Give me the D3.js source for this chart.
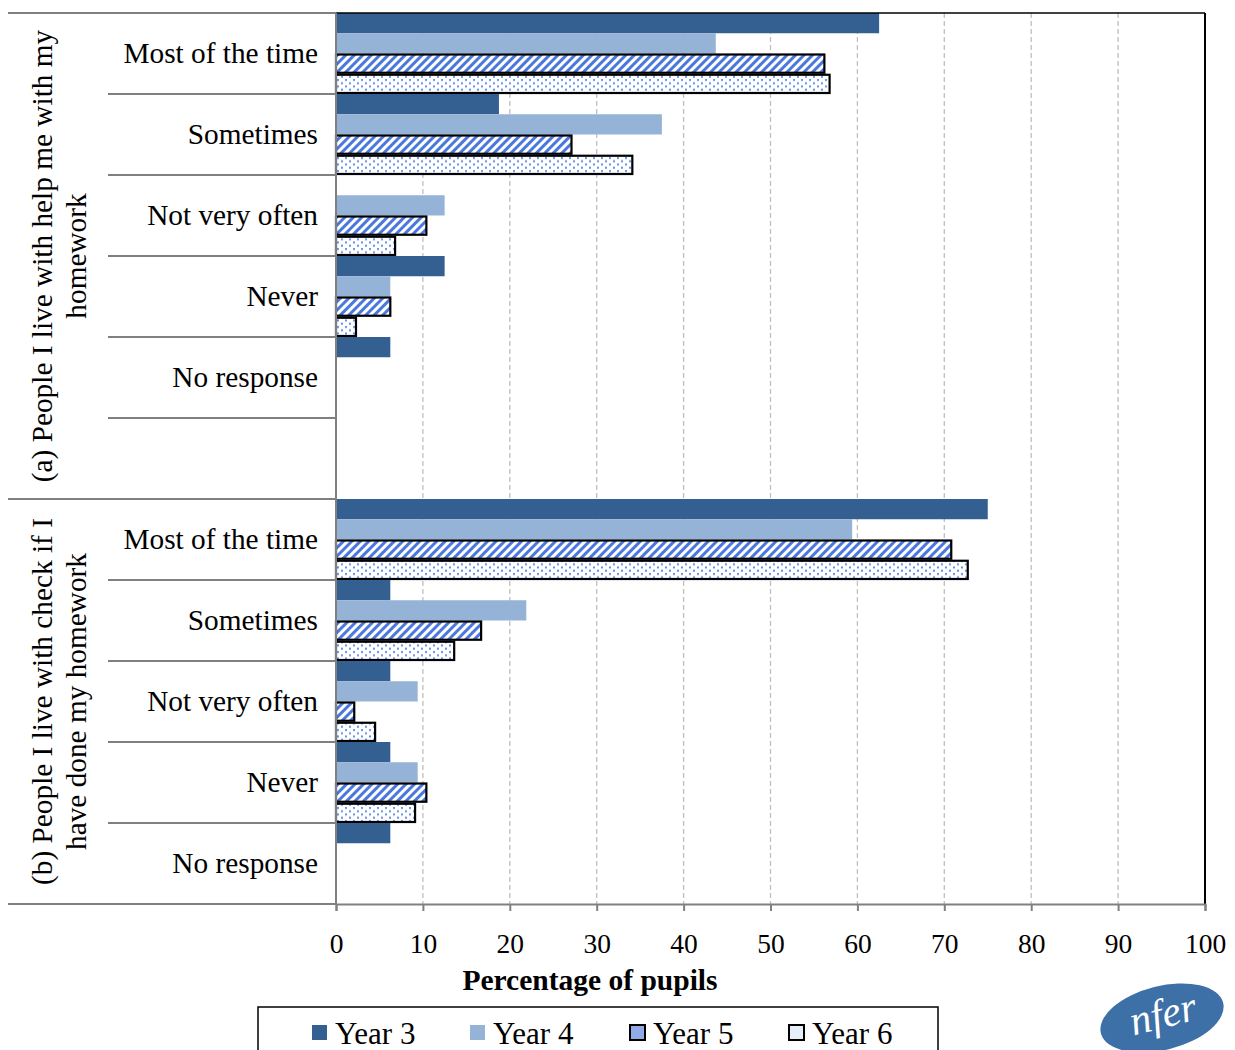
<!DOCTYPE html>
<html><head><meta charset="utf-8">
<script src="https://cdnjs.cloudflare.com/ajax/libs/d3/7.8.5/d3.min.js"></script>
<style>body{margin:0;background:#fff;} svg{display:block;font-family:"Liberation Serif","Times New Roman",serif;}</style>
</head><body>
<script>
const responses = ["Most of the time","Sometimes","Not very often","Never","No response"];
const groupA = "(a) People I live with help me with my|homework";
const groupB = "(b) People I live with check if I|have done my homework";
const series = ["Year 3","Year 4","Year 5","Year 6"];
const ticks = [0,10,20,30,40,50,60,70,80,90,100];
// values per response, order Year3..Year6
const valuesA = [
  [62.5, 43.7, 56.2, 56.8],
  [18.75, 37.5, 27.1, 34.1],
  [0, 12.5, 10.4, 6.8],
  [12.5, 6.25, 6.25, 2.3],
  [6.25, 0, 0, 0]
];
const valuesB = [
  [75.0, 59.4, 70.8, 72.7],
  [6.25, 21.9, 16.7, 13.6],
  [6.25, 9.4, 2.1, 4.5],
  [6.25, 9.4, 10.4, 9.1],
  [6.25, 0, 0, 0]
];

(function(){
const W=1235,H=1050;
const svg=d3.select("body").append("svg").attr("width",W).attr("height",H);
const defs=svg.append("defs");
const stripe=defs.append("pattern").attr("id","stripe").attr("patternUnits","userSpaceOnUse")
  .attr("width",6).attr("height",6).attr("patternTransform","rotate(45)");
stripe.append("rect").attr("width",6).attr("height",6).attr("fill","#fff");
stripe.append("rect").attr("x",0).attr("width",3).attr("height",6).attr("fill","#4A78DC");
const dots=defs.append("pattern").attr("id","dots").attr("patternUnits","userSpaceOnUse")
  .attr("width",8).attr("height",6.5);
dots.append("rect").attr("width",8).attr("height",6.5).attr("fill","#fff");
dots.append("rect").attr("x",1).attr("y",1).attr("width",2).attr("height",2).attr("fill","#6690E4");
dots.append("rect").attr("x",5).attr("y",4.25).attr("width",2).attr("height",2).attr("fill","#6690E4");

const fills=["#335F91","#95B3D7","url(#stripe)","url(#dots)"];
const strokes=[null,null,"#000","#000"];

const pLeft=336,pRight=1205,pTop=13,pBottom=904;
const rows=[];
responses.forEach((r,i)=>rows.push({key:"a"+i,label:r,vals:valuesA[i]}));
rows.push({key:"a_blank",label:"",vals:[0,0,0,0]});
responses.forEach((r,i)=>rows.push({key:"b"+i,label:r,vals:valuesB[i]}));

const x=d3.scaleLinear().domain([0,100]).range([pLeft,pRight]);
const y=d3.scaleBand().domain(rows.map(d=>d.key)).range([pTop,pBottom]).padding(0);
const yi=d3.scaleBand().domain(series).range([0,y.bandwidth()]).padding(0);

// gridlines
svg.append("g").selectAll("line").data(ticks.slice(1,-1)).join("line")
  .attr("x1",d=>x(d)).attr("x2",d=>x(d)).attr("y1",pTop).attr("y2",pBottom)
  .attr("stroke","#BFBFBF").attr("stroke-width",1.3).attr("stroke-dasharray","5,3");

// bars
const g=svg.append("g");
rows.forEach(row=>{
  row.vals.forEach((v,j)=>{
    if(v<=0) return;
    const y0=y(row.key)+yi(series[j]);
    const r=g.append("rect").attr("x",x(0)).attr("y",y0+(strokes[j]?1:0))
      .attr("width",x(v)-x(0)).attr("height",yi.bandwidth()-(strokes[j]?2:0))
      .attr("fill",fills[j]);
    if(strokes[j]) r.attr("stroke",strokes[j]).attr("stroke-width",2.2);
  });
});

// plot border top/right
svg.append("line").attr("x1",pLeft).attr("x2",pRight).attr("y1",pTop).attr("y2",pTop).attr("stroke","#000").attr("stroke-width",1.5);
svg.append("line").attr("x1",pRight).attr("x2",pRight).attr("y1",pTop).attr("y2",pBottom).attr("stroke","#000").attr("stroke-width",2);

// x axis
const xAxis=d3.axisBottom(x).tickValues(ticks).tickSize(7).tickFormat(d3.format("d"));
const xg=svg.append("g").attr("transform",`translate(0,${pBottom})`).call(xAxis);
xg.select(".domain").attr("stroke","#808080").attr("stroke-width",2);
xg.selectAll(".tick line").attr("stroke","#808080").attr("stroke-width",2);
xg.selectAll(".tick text").attr("font-size",27.5).attr("fill","#000").attr("dy",0).attr("y",49)
  .attr("font-family","Liberation Serif");
svg.append("line").attr("x1",8).attr("x2",pLeft).attr("y1",pBottom).attr("y2",pBottom).attr("stroke","#808080").attr("stroke-width",2);

// y axis line
svg.append("line").attr("x1",pLeft).attr("x2",pLeft).attr("y1",pTop).attr("y2",pBottom).attr("stroke","#808080").attr("stroke-width",2);

// category separator lines
const keys=y.domain();
keys.forEach((k,i)=>{
  if(i===0) return;
  const yy=y(k);
  const isGroup = k==="b0";
  svg.append("line").attr("x1",isGroup?8:108).attr("x2",pLeft).attr("y1",yy).attr("y2",yy)
    .attr("stroke","#808080").attr("stroke-width",2);
});
svg.append("line").attr("x1",8).attr("x2",pLeft).attr("y1",pTop).attr("y2",pTop).attr("stroke","#808080").attr("stroke-width",2);

// category labels
rows.forEach(row=>{
  if(!row.label) return;
  svg.append("text").attr("x",318).attr("y",y(row.key)+y.bandwidth()/2+9)
    .attr("text-anchor","end").attr("font-size",29.3).text(row.label);
});

// group labels
function groupLabel(txt,yc){
  const lines=txt.split("|");
  const t=svg.append("text").attr("transform",`translate(0,${yc}) rotate(-90)`)
    .attr("text-anchor","middle").attr("font-size",29.3);
  lines.forEach((l,i)=>t.append("tspan").attr("x",0).attr("y",i===0?52:86).text(l));
}
groupLabel(groupA,(y("a0")+y("a_blank")+y.bandwidth())/2);
groupLabel(groupB,(y("b0")+pBottom)/2);

// axis title
svg.append("text").attr("x",590).attr("y",990).attr("text-anchor","middle")
  .attr("font-size",29.5).attr("font-weight","bold").text("Percentage of pupils");

// legend
svg.append("rect").attr("x",258).attr("y",1007).attr("width",680).attr("height",60)
  .attr("fill","#fff").attr("stroke","#000").attr("stroke-width",1.5);
const legX=[312,470,630,789];
series.forEach((s,i)=>{
  svg.append("rect").attr("x",legX[i]).attr("y",1025).attr("width",15).attr("height",15)
    .attr("fill",i===2?"#8FAAE6":i===3?"#E6EEFA":fills[i])
    .attr("stroke",strokes[i]||"none").attr("stroke-width",2);
  svg.append("text").attr("x",legX[i]+23).attr("y",1044).attr("font-size",31).text(s);
});

// logo
const logo=svg.append("g").attr("transform","translate(1162,1018) rotate(-14)");
logo.append("ellipse").attr("rx",63).attr("ry",32).attr("fill","#3D70A6");
logo.append("text").attr("x",2).attr("y",10).attr("text-anchor","middle").attr("font-size",42)
  .attr("font-style","italic").attr("fill","#fff").text("nfer");
})();
</script>
</body></html>
